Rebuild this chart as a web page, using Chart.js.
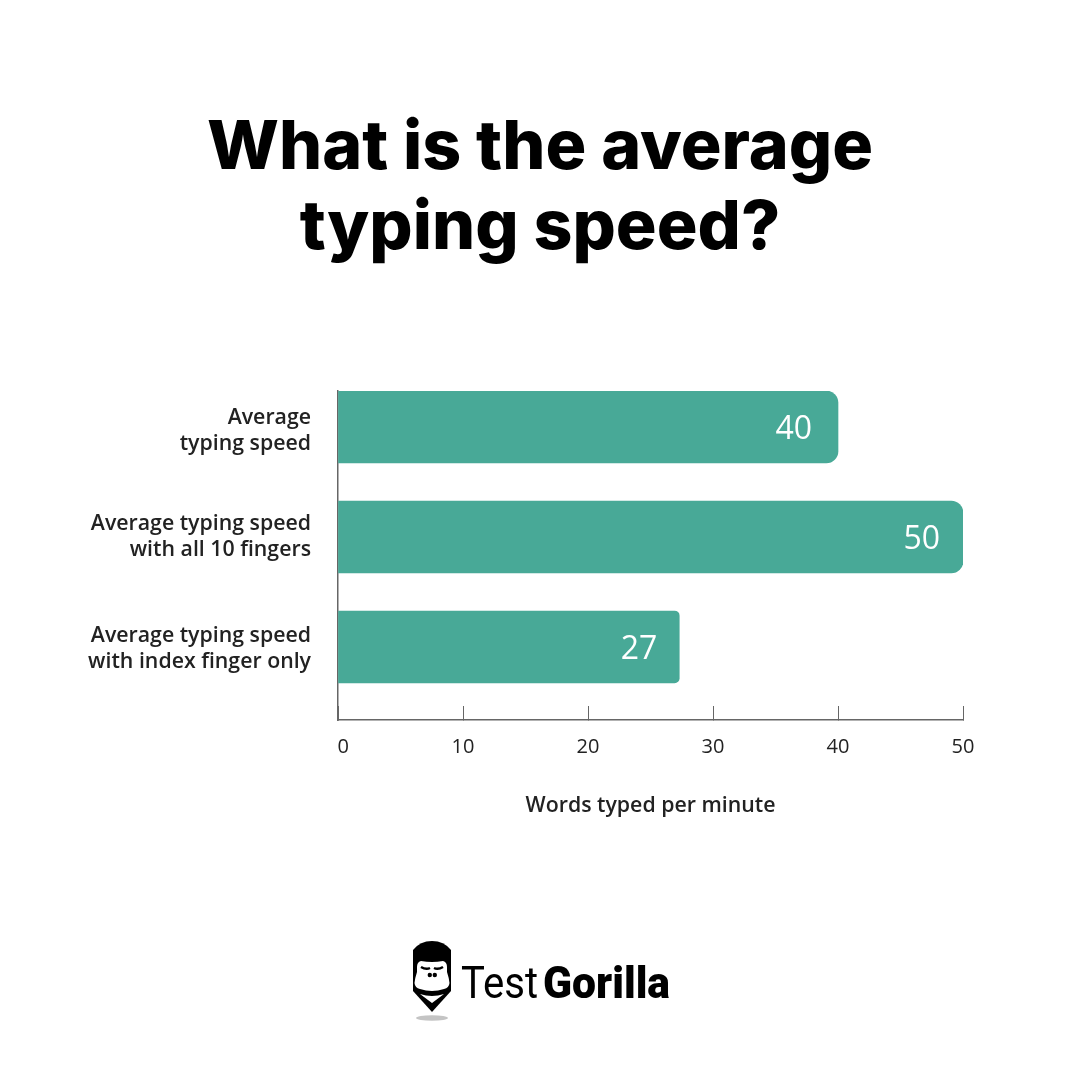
<!DOCTYPE html>
<html>
<head>
<meta charset="utf-8">
<script src="https://cdn.jsdelivr.net/npm/chart.js@4"></script>
<style>
html, body { margin: 0; padding: 0; background: #fff; }
#wrap { width: 1080px; height: 1080px; }
</style>
</head>
<body>
<div id="wrap"><canvas id="myChart" width="1080" height="1080"></canvas></div>
<script>
const titleLines = ['What is the average', 'typing speed?']
const categories = [
    ['Average', 'typing speed'],
    ['Average typing speed', 'with all 10 fingers'],
    ['Average typing speed', 'with index finger only']
]
const positions = [0, 1, 2]
const wordsPerMinute = [40, 50, 27.3]
const xTicks = [0, 10, 20, 30, 40, 50]
const xTitle = 'Words typed per minute'

const barColor = '#48a997'
const axisColor = '#666666'
const textColor = '#222222'
const cornerRadius = [12, 12, 5]
const labelInset = [26, 23, 22]
// the category labels do not sit exactly on the bar centres in the original
const labelNudge = [0.036, 0, 0.014]

// value text inside the bar ends
const valueLabels = {
    id: 'valueLabels',
    afterDatasetsDraw(chart) {
        const ctx = chart.ctx
        ctx.save()
        ctx.fillStyle = '#fff'
        ctx.font = '500 32px "Open Sans"'
        ctx.textAlign = 'right'
        ctx.textBaseline = 'middle'
        chart.getDatasetMeta(0).data.forEach((bar, i) => {
            ctx.fillText(String(Math.round(wordsPerMinute[i])), bar.x - labelInset[i], bar.y + 3)
        })
        ctx.restore()
    }
}

// left padding keeps the title centred, but the y labels get clipped to the scale box
const widenLabelArea = {
    id: 'widenLabelArea',
    afterLayout(chart) {
        chart.scales.y.left = 0
    }
}

// gorilla logo under the chart
const logo = {
    id: 'logo',
    afterDraw(chart) {
        const ctx = chart.ctx
        ctx.save()
        ctx.fillStyle = '#c4c4c4'
        ctx.beginPath()
        ctx.ellipse(432, 1018, 16, 2.8, 0, 0, Math.PI * 2)
        ctx.fill()

        ctx.fillStyle = '#000'
        ctx.fill(new Path2D('M413 950 Q420 941 432 941 Q444 941 451 950 L451 991 L432 1012 L413 991 Z'))
        ctx.fillStyle = '#fff'
        ctx.fill(new Path2D('M421 961 Q432 963 443 961 Q447 962 447 967 L447 972 Q449 978 449.5 983 Q449 988 444 989 Q432 993 420 989 Q415 988 414.5 983 Q415 978 417 972 L417 967 Q417 962 421 961 Z'))
        ctx.fill(new Path2D('M420 994 Q432 998 444 994 L432 1003 Z'))
        ctx.strokeStyle = '#000'
        ctx.lineWidth = 2.5
        ctx.stroke(new Path2D('M421 967 Q426 970 430 968 M434 968 Q438 970 443 967'))
        ctx.fillStyle = '#000'
        ctx.fill(new Path2D('M427.6 975 a2.2 2.2 0 1 0 4.4 0 a2.2 2.2 0 1 0 -4.4 0 M432.6 975 a2.2 2.2 0 1 0 4.4 0 a2.2 2.2 0 1 0 -4.4 0'))

        ctx.textBaseline = 'alphabetic'
        ctx.textAlign = 'left'
        ctx.fillStyle = '#000'
        const drawFit = (text, font, x, width) => {
            ctx.font = font
            const w = ctx.measureText(text).width
            ctx.save()
            ctx.translate(x, 998)
            ctx.scale(width / w, 1)
            ctx.fillText(text, 0, 0)
            ctx.restore()
        }
        drawFit('Test', '400 45px Roboto', 461, 77)
        drawFit('Gorilla', '900 45px Roboto', 543, 127)
        ctx.restore()
    }
}

const myChart = new Chart(document.getElementById('myChart'), {
    type: 'bar',
    data: {
        datasets: [{
            data: positions.map((p, i) => ({ x: wordsPerMinute[i], y: p })),
            backgroundColor: barColor,
            barThickness: 72,
            borderSkipped: false,
            borderRadius: ctx => ({
                topLeft: 0,
                bottomLeft: 0,
                topRight: cornerRadius[ctx.dataIndex],
                bottomRight: cornerRadius[ctx.dataIndex]
            })
        }]
    },
    options: {
        indexAxis: 'y',
        responsive: false,
        animation: false,
        layout: { padding: { left: 117, right: 117, top: 0, bottom: 261 } },
        plugins: {
            legend: { display: false },
            tooltip: { enabled: false },
            title: {
                display: true,
                text: titleLines,
                color: '#000',
                font: { family: 'Inter', size: 68, weight: 800, lineHeight: 80 / 68 },
                padding: { top: 109, bottom: 122 }
            }
        },
        scales: {
            x: {
                type: 'linear',
                min: 0,
                max: 50,
                afterBuildTicks: axis => { axis.ticks = xTicks.map(value => ({ value })) },
                afterFit: axis => { axis.height = 99 },
                border: { color: axisColor, width: 1.5 },
                grid: { drawOnChartArea: false, color: axisColor, tickLength: -14 },
                ticks: {
                    color: textColor,
                    font: { family: 'Open Sans', size: 20 },
                    padding: 29,
                    maxRotation: 0,
                    callback: v => v === 0 ? '  0' : String(v)
                },
                title: {
                    display: true,
                    text: xTitle,
                    color: textColor,
                    font: { family: 'Open Sans', size: 21.3, weight: 600 },
                    padding: 0
                }
            },
            y: {
                type: 'linear',
                reverse: true,
                offset: false,
                min: -0.327,
                max: 2.664,
                afterBuildTicks: axis => { axis.ticks = positions.map((p, i) => ({ value: p + labelNudge[i] })) },
                afterFit: axis => { axis.width = 221 },
                border: { color: axisColor, width: 1.5 },
                grid: { display: false, drawTicks: false },
                ticks: {
                    color: textColor,
                    font: { family: 'Open Sans', size: 21.3, weight: 600, lineHeight: 1.22 },
                    padding: 27,
                    callback: (v, i) => categories[i]
                }
            }
        }
    },
    plugins: [valueLabels, widenLabelArea, logo]
})
</script>
</body>
</html>
